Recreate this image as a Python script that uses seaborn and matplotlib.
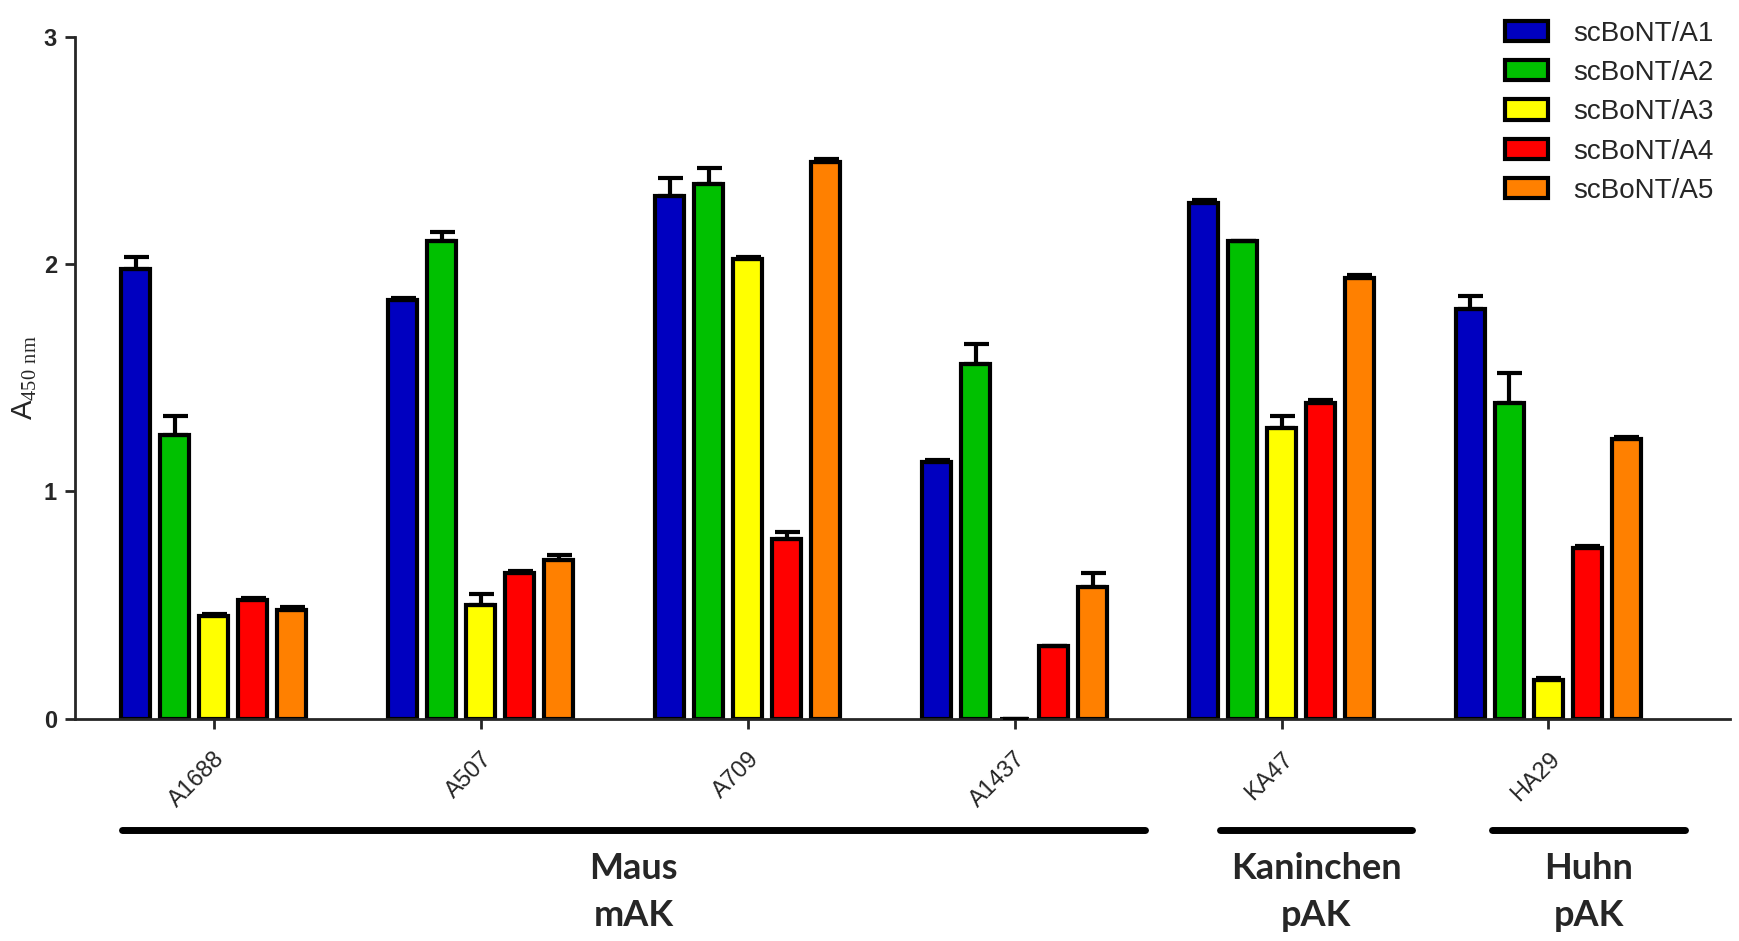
import numpy as np
import pandas as pd
import matplotlib
matplotlib.use("Agg")
import matplotlib.pyplot as plt
import matplotlib.transforms as mtransforms
from matplotlib.patches import Patch
import seaborn as sns

# antibodies and toxin subtypes
antibodies = ["A1688", "A507", "A709", "A1437", "KA47", "HA29"]
subtypes = ["scBoNT/A1", "scBoNT/A2", "scBoNT/A3", "scBoNT/A4", "scBoNT/A5"]
colors = ["#0000C0", "#00C000", "#FFFF00", "#FF0000", "#FF8000"]

# mean A450 per antibody (rows) and subtype (cols)
a1 = [1.98, 1.84, 2.30, 1.13, 2.27, 1.80]
a2 = [1.25, 2.10, 2.35, 1.56, 2.10, 1.39]
a3 = [0.45, 0.50, 2.02, 0.00, 1.28, 0.17]
a4 = [0.52, 0.64, 0.79, 0.32, 1.39, 0.75]
a5 = [0.48, 0.70, 2.45, 0.58, 1.94, 1.23]
# upper error (SD)
e1 = [0.05, 0.01, 0.08, 0.01, 0.01, 0.06]
e2 = [0.08, 0.04, 0.07, 0.09, 0.00, 0.13]
e3 = [0.01, 0.05, 0.01, 0.00, 0.05, 0.01]
e4 = [0.01, 0.01, 0.03, 0.00, 0.01, 0.01]
e5 = [0.01, 0.02, 0.01, 0.06, 0.01, 0.01]

# species groups: label, first/last x in data units
groups = [("Maus\nmAK", -0.344, 3.49), ("Kaninchen\npAK", 3.77, 4.49), ("Huhn\npAK", 4.79, 5.51)]

means = [a1, a2, a3, a4, a5]
errs = [e1, e2, e3, e4, e5]
rows = []
for s, m, e in zip(subtypes, means, errs):
    for ab, v, ev in zip(antibodies, m, e):
        rows.append({"antibody": ab, "subtype": s, "value": v, "err": ev})
df = pd.DataFrame(rows)

sns.set_style("white")
plt.rcParams["font.family"] = ["Liberation Sans", "DejaVu Sans"]
plt.rcParams["mathtext.fontset"] = "custom"
plt.rcParams["mathtext.rm"] = "Liberation Serif"

fig = plt.figure(figsize=(17.39, 9.41), dpi=100)
ax = fig.add_axes([0.0431, 0.2362, 0.9517, 0.7249])

sns.barplot(data=df, x="antibody", y="value", hue="subtype", order=antibodies,
            hue_order=subtypes, palette=colors, saturation=1, width=0.73, gap=0.25,
            edgecolor="black", linewidth=3, errorbar=None, ax=ax, legend=False)

# upper-only error bars
for cont, s in zip(ax.containers, subtypes):
    sub = df[df.subtype == s].set_index("antibody").loc[antibodies]
    xs = [p.get_x() + p.get_width() / 2 for p in cont.patches]
    ax.errorbar(xs, sub["value"], yerr=[np.zeros(len(xs)), sub["err"]], fmt="none",
                ecolor="black", elinewidth=3, capsize=9, capthick=3, zorder=5)

ax.set_ylim(0, 3)
ax.set_xlim(-0.52, 5.68)
ax.tick_params(axis="both", direction="out", length=7, width=2, left=True, bottom=True)
ax.tick_params(axis="x", pad=14, labelsize=17)
ax.tick_params(axis="y", pad=6, labelsize=17)
ax.set_yticks([0, 1, 2, 3])
ax.set_yticklabels(["0", "1", "2", "3"], fontweight="bold")
ax.set_xticks(range(len(antibodies)))
ax.set_xticklabels(antibodies, rotation=45, ha="right", rotation_mode="anchor")
sns.despine(ax=ax)
for sp in ["left", "bottom"]:
    ax.spines[sp].set_linewidth(2)
ax.set_xlabel("")
ax.set_ylabel(r"A$_{\mathrm{450\ nm}}$", fontsize=21)
ax.yaxis.set_label_coords(-0.022, 0.5)

# species grouping lines and labels below the axis
trans = mtransforms.blended_transform_factory(ax.transData, ax.transAxes)
for lab, x0, x1 in groups:
    ax.plot([x0, x1], [-0.163, -0.163], color="black", lw=5, transform=trans, clip_on=False)
    ax.text((x0 + x1) / 2, -0.196, lab, transform=trans, ha="center", va="top",
            fontsize=26, fontweight="bold", family="Lato", linespacing=1.5)

handles = [Patch(facecolor=c, edgecolor="black", linewidth=3, label=s) for c, s in zip(colors, subtypes)]
ax.legend(handles=handles, loc="upper right", bbox_to_anchor=(1.005, 1.06), frameon=False,
          fontsize=20, handlelength=1.55, handleheight=0.75, labelspacing=0.48, handletextpad=0.9)

fig.savefig("out.png", dpi=100)
